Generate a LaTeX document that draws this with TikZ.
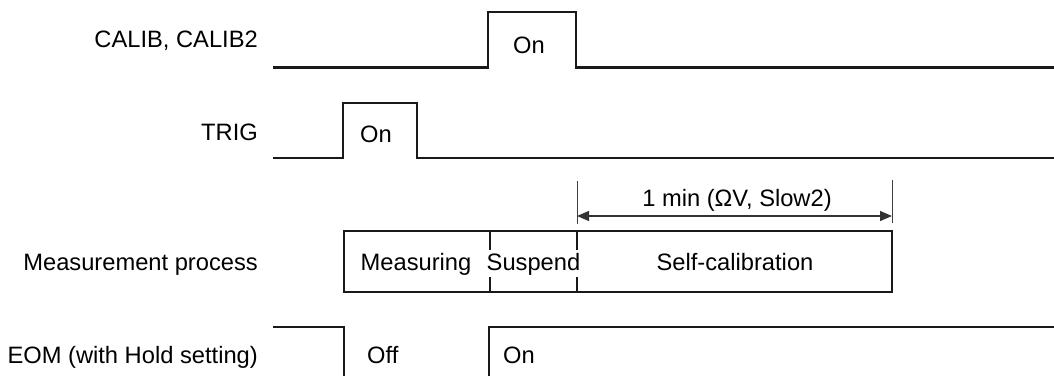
\documentclass[tikz,border=0pt]{standalone}
\usepackage{fontspec}
\setmainfont{Liberation Sans}
\usetikzlibrary{arrows.meta,positioning}

\begin{document}
\begin{tikzpicture}[x=1pt, y=-1pt,
  every node/.style={font=\fontsize{23.7}{28}\selectfont, inner sep=0pt},
  lbl/.style={anchor=base east},
  val/.style={anchor=base},
  sig/.style={line width=2.2pt, black!90},
  box/.style={line width=2pt, black!90},
  extline/.style={line width=1pt, black!75},
  dimarr/.style={{Triangle[length=12pt,width=10pt]}-{Triangle[length=12pt,width=10pt]},
    line width=1.3pt, black!80},
]
\useasboundingbox (0,0) rectangle (1054,376);

% signal names
\node[lbl] (calibname) at (258,47) {CALIB, CALIB2};
\node[lbl] (trigname) at (258,140) {TRIG};
\node[lbl] (measname) at (258,270) {Measurement process};
\node[lbl] (eomname) at (258,363) {EOM (with Hold setting)};

% CALIB, CALIB2
\draw[sig] (273,67.5) -- (488,67.5) -- (488,12) -- (576,12) -- (576,67.5) -- (1054,67.5);
\node[val] (calibon) at (529,53) {On};

% TRIG
\draw[sig] (273,158) -- (343,158) -- (343,103) -- (417,103) -- (417,158) -- (1054,158);
\node[val] (trigon) at (376,142) {On};

% measurement process
\draw[box] (344,231) rectangle (892,292);
\draw[box] (490,231) -- (490,292);
\draw[box] (577,231) -- (577,292);
\node[val] (measuring) at (416,270) {Measuring};
\node[val, fill=white, inner ysep=2.5pt] (suspend) at (533.5,270) {Suspend};
\node[val] (selfcal) at (735,270) {Self-calibration};

% 1 min dimension
\coordinate (dimL) at (577,216);
\coordinate (dimR) at (892,216);
\draw[extline] (577,181) -- (577,224);
\draw[extline] (892,180) -- (892,223);
\draw[dimarr] (dimL) -- (dimR);
\node[val] (dimtext) at (737,206) {1 min (ΩV, Slow2)};

% EOM
\draw[sig] (273,327) -- (344,327) -- (344,376);
\draw[sig] (489,376) -- (489,327) -- (1054,327);
\node[anchor=base west] (eomoff) at (367,363) {Off};
\node[anchor=base west] (eomon) at (503,363) {On};

\end{tikzpicture}
\end{document}
